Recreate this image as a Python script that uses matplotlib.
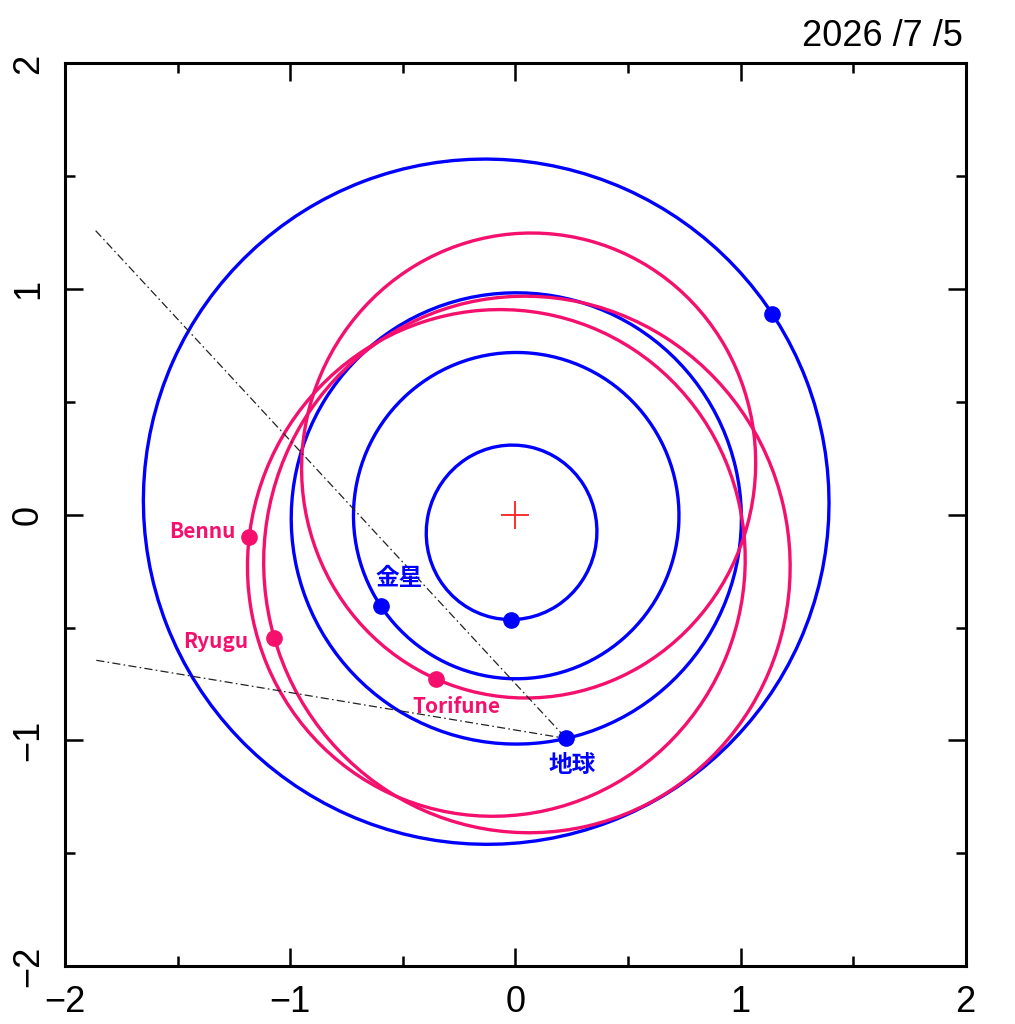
import numpy as np
import matplotlib.pyplot as plt
from matplotlib.patches import Ellipse

# orbit elements (ecliptic projection): semi-major axis [AU], eccentricity,
# longitude of perihelion [deg], heliocentric longitude on 2026/7/5 [deg]
planetNames = ['水星', '金星', '地球', '火星']
planetA     = [0.387, 0.723, 1.000, 1.524]
planetE     = [0.206, 0.007, 0.0167, 0.0934]
planetPeri  = [77.5, 131.5, 102.9, 336.0]
planetLon   = [267.3, 214.0, 282.8, 38.0]

asteroidNames = ['Bennu', 'Ryugu', 'Torifune']
asteroidA     = [1.126, 1.190, 1.032]
asteroidE     = [0.204, 0.190, 0.219]
asteroidPeri  = [68.3, 103.0, 255.0]
asteroidLon   = [184.8, 207.1, 244.1]

# dash-dot guide lines drawn towards the Earth (start points, AU)
guideX = [-1.865, -1.862]
guideY = [1.259, -0.645]

dateText = '2026 /7 /5'
ticksMajor = [-2, -1, 0, 1, 2]
ticksMinor = [-1.5, -0.5, 0.5, 1.5]

blue = '#0000FF'
pink = '#F5106E'

def orbitPatch(a, e, peri, color):
    b = a*np.sqrt(1 - e**2)
    w = np.radians(peri)
    centre = (-a*e*np.cos(w), -a*e*np.sin(w))
    return Ellipse(centre, 2*a, 2*b, angle=peri, fill=False, ec=color, lw=2.4)

def position(a, e, peri, lon):
    nu = np.radians(lon - peri)
    r = a*(1 - e**2)/(1 + e*np.cos(nu))
    return r*np.cos(np.radians(lon)), r*np.sin(np.radians(lon))

fig = plt.figure(figsize=(10.15, 10.24), dpi=100)
ax = fig.add_axes([0.0643, 0.0566, 0.8871, 0.8814])

# orbits and bodies
planetPos = []
for a, e, p, l in zip(planetA, planetE, planetPeri, planetLon):
    ax.add_patch(orbitPatch(a, e, p, blue))
    planetPos.append(position(a, e, p, l))
asteroidPos = []
for a, e, p, l in zip(asteroidA, asteroidE, asteroidPeri, asteroidLon):
    ax.add_patch(orbitPatch(a, e, p, pink))
    asteroidPos.append(position(a, e, p, l))

earth = planetPos[2]
for gx, gy in zip(guideX, guideY):
    ax.plot([gx, earth[0]], [gy, earth[1]], color='#222222', lw=0.9,
            dashes=(6.5, 2.6, 1.3, 2.6))

for x, y in planetPos:
    ax.plot(x, y, 'o', color=blue, ms=11, zorder=5)
for x, y in asteroidPos:
    ax.plot(x, y, 'o', color=pink, ms=11, zorder=5)

# sun
ax.plot(0, 0, '+', color='#FF2020', ms=19.5, mew=1.3)

# labels (offsets in points)
labFont = ['Noto Sans CJK JP', 'DejaVu Sans']
ax.annotate(asteroidNames[0], asteroidPos[0], xytext=(-10, -0.7), textcoords='offset points',
            ha='right', va='baseline', color=pink, fontsize=15, fontweight='bold', family=labFont)
ax.annotate(asteroidNames[1], asteroidPos[1], xytext=(-18.7, -7.2), textcoords='offset points',
            ha='right', va='baseline', color=pink, fontsize=15, fontweight='bold', family=labFont)
ax.annotate(asteroidNames[2], asteroidPos[2], xytext=(14.6, -24.5), textcoords='offset points',
            ha='center', va='baseline', color=pink, fontsize=15, fontweight='bold', family=labFont)
ax.annotate(planetNames[1], planetPos[1], xytext=(13, 20), textcoords='offset points',
            ha='center', va='center', color=blue, fontsize=17, fontweight='bold', family=labFont)
ax.annotate(planetNames[2], planetPos[2], xytext=(4.3, -19.4), textcoords='offset points',
            ha='center', va='center', color=blue, fontsize=17, fontweight='bold', family=labFont)

# axes
ax.set_xlim(-2, 2)
ax.set_ylim(-2, 2)
ax.set_xticks(ticksMajor)
ax.set_yticks(ticksMajor)
ax.set_xticks(ticksMinor, minor=True)
ax.set_yticks(ticksMinor, minor=True)
ax.tick_params(which='both', direction='in', top=True, right=True, width=1.8,
               labelsize=26, pad=14)
ax.tick_params(which='major', length=13)
ax.tick_params(which='minor', length=7)
for lab in ax.get_xticklabels() + ax.get_yticklabels():
    lab.set_family('Liberation Sans')
for lab in ax.get_yticklabels():
    lab.set_rotation(90)
    lab.set_va('center')
for s in ax.spines.values():
    s.set_linewidth(2.2)

ax.annotate(dateText, (1, 1), xycoords='axes fraction', xytext=(-2, 12.6),
            textcoords='offset points', ha='right', va='baseline',
            fontsize=26, family='Liberation Sans')

fig.savefig('out.png', dpi=100)
